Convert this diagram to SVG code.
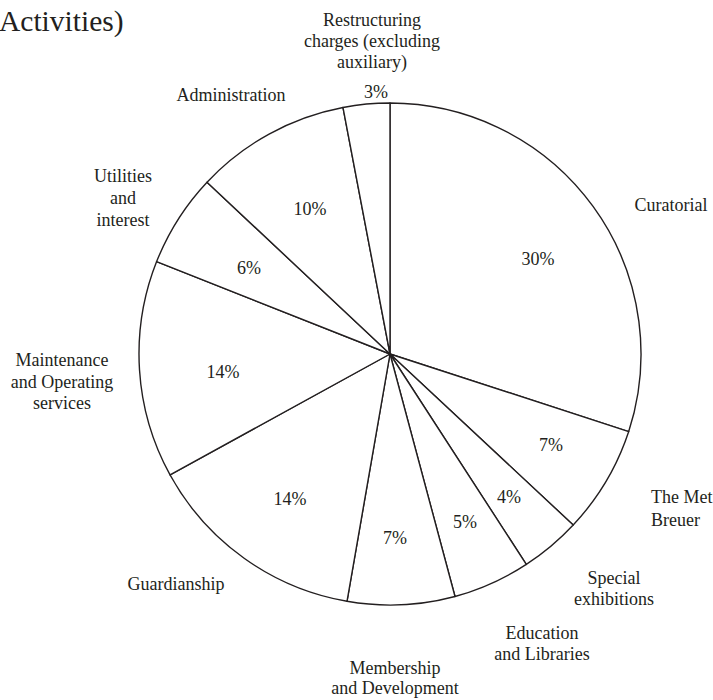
<svg xmlns="http://www.w3.org/2000/svg" width="713" height="700" viewBox="0 0 713 700" font-family="'Liberation Serif', 'Times New Roman', 'DejaVu Serif', serif">
<style>
.w{fill:#fff;stroke:#231f20;stroke-width:1.4;stroke-linejoin:round}
text{font-family:'Liberation Serif','Times New Roman','DejaVu Serif',serif;font-size:18px;fill:#231f20;text-anchor:middle}
.t{font-size:29.5px;text-anchor:start}
.s{text-anchor:start}
</style>
<rect width="713" height="700" fill="#fff"/>
<text class="t" x="-1" y="31">Activities)</text>
<g id="curatorial">
<path class="w" d="M390,354 L390,103 A251,251 0 0 1 628.72,431.56 Z"/>
<text x="538" y="265">30%</text>
<text x="671" y="211">Curatorial</text>
</g>
<g id="met-breuer">
<path class="w" d="M390,354 L628.72,431.56 A251,251 0 0 1 573.2,525 Z"/>
<text x="551" y="451">7%</text>
<text class="s" x="651" y="503">The Met</text>
<text class="s" x="651" y="526">Breuer</text>
</g>
<g id="special-exhibitions">
<path class="w" d="M390,354 L573.2,525 A251,251 0 0 1 526.3,564.4 Z"/>
<text x="509" y="503">4%</text>
<text x="614" y="584">Special</text>
<text x="614" y="605">exhibitions</text>
</g>
<g id="education">
<path class="w" d="M390,354 L526.3,564.4 A251,251 0 0 1 455,596.5 Z"/>
<text x="465" y="528">5%</text>
<text x="542" y="639">Education</text>
<text x="542" y="660">and Libraries</text>
</g>
<g id="membership">
<path class="w" d="M390,354 L455,596.5 A251,251 0 0 1 347,601.3 Z"/>
<text x="395" y="544">7%</text>
<text x="395" y="674">Membership</text>
<text x="395" y="694">and Development</text>
</g>
<g id="guardianship">
<path class="w" d="M390,354 L347,601.3 A251,251 0 0 1 170.05,474.92 Z"/>
<text x="290" y="505">14%</text>
<text x="176" y="590">Guardianship</text>
</g>
<g id="maintenance">
<path class="w" d="M390,354 L170.05,474.92 A251,251 0 0 1 156.63,261.6 Z"/>
<text x="223" y="378">14%</text>
<text x="62" y="366">Maintenance</text>
<text x="62" y="388">and Operating</text>
<text x="62" y="409">services</text>
</g>
<g id="utilities">
<path class="w" d="M390,354 L156.63,261.6 A251,251 0 0 1 207.03,182.18 Z"/>
<text x="249" y="274">6%</text>
<text x="123" y="182">Utilities</text>
<text x="123" y="204">and</text>
<text x="123" y="226">interest</text>
</g>
<g id="administration">
<path class="w" d="M390,354 L207.03,182.18 A251,251 0 0 1 342.97,107.45 Z"/>
<text x="310" y="215">10%</text>
<text x="231" y="101">Administration</text>
</g>
<g id="restructuring">
<path class="w" d="M390,354 L342.97,107.45 A251,251 0 0 1 390,103 Z"/>
<text x="376" y="98">3%</text>
<text x="372" y="26">Restructuring</text>
<text x="372" y="47">charges (excluding</text>
<text x="372" y="68">auxiliary)</text>
</g>
<g id="connectors"/>
</svg>
